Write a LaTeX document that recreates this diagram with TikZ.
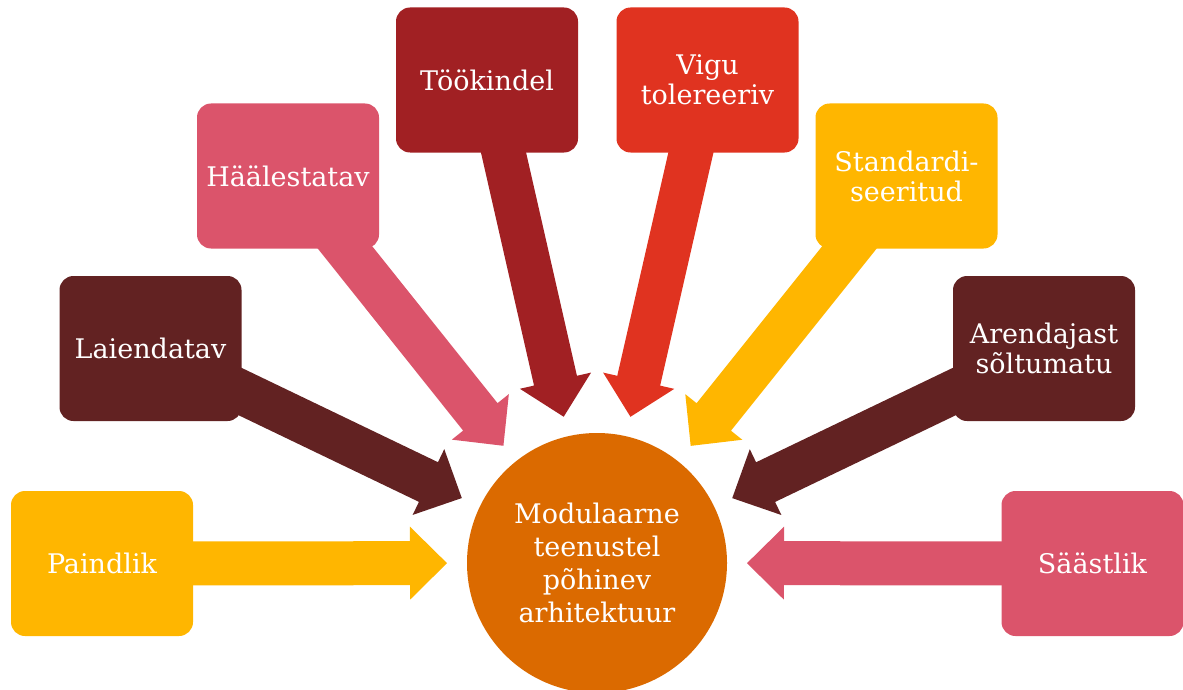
\documentclass[tikz,border=0pt]{standalone}
\usepackage{fontspec}
\setmainfont{DejaVu Serif}
\usetikzlibrary{calc,backgrounds}

\definecolor{amber}{HTML}{FFB600}
\definecolor{umber}{HTML}{622222}
\definecolor{rosy}{HTML}{DB546B}
\definecolor{crimson}{HTML}{A12023}
\definecolor{scarlet}{HTML}{E03320}
\definecolor{hubfill}{HTML}{DB6A00}

\tikzset{
  tile/.style={rectangle, rounded corners=14pt, minimum width=182pt,
    minimum height=145pt, inner sep=0pt, align=center, text=white,
    font=\fontsize{27}{30}\selectfont},
  hubnode/.style={circle, fill=hubfill, minimum size=260pt, inner sep=0pt,
    align=center, text=white, font=\fontsize{27}{33}\selectfont},
}

% block arrow from the centre of tile #1 toward the hub, stopping 150pt from its centre
\newcommand\spoke[2]{%
  \coordinate (#1-tip) at ($(hub.center)!150pt!(#1.center)$);
  \coordinate (#1-neck) at ($(#1-tip)!37pt!(#1.center)$);
  \fill[#2] ($(#1.center)!22pt!90:(#1-tip)$)
    -- ($(#1-neck)!22pt!90:(#1-tip)$)
    -- ($(#1-neck)!36.5pt!90:(#1-tip)$)
    -- (#1-tip)
    -- ($(#1-neck)!36.5pt!-90:(#1-tip)$)
    -- ($(#1-neck)!22pt!-90:(#1-tip)$)
    -- ($(#1.center)!22pt!-90:(#1-tip)$) -- cycle;
}

\begin{document}
\begin{tikzpicture}[x=1pt,y=-1pt]
\useasboundingbox (0,0) rectangle (1183,690);

\node[hubnode] (hub) at (597,563) {Modulaarne\\teenustel\\põhinev\\arhitektuur};

\node[tile, fill=amber]   (paindlik) at (102,563.5)   {Paindlik};
\node[tile, fill=umber]   (laiend)   at (150.5,348.5) {Laiendatav};
\node[tile, fill=rosy]    (haal)     at (288,176)     {Häälestatav};
\node[tile, fill=crimson] (tookind)  at (487,80)      {Töökindel};
\node[tile, fill=scarlet] (vigu)     at (707.5,80)    {Vigu\\tolereeriv};
\node[tile, fill=amber]   (standard) at (906.5,176)   {Standardi-\\seeritud};
\node[tile, fill=umber]   (arend)    at (1044,348.5)  {Arendajast\\sõltumatu};
\node[tile, fill=rosy]    (saast)    at (1092.5,563.5){Säästlik};

\begin{pgfonlayer}{background}
  \spoke{paindlik}{amber}
  \spoke{laiend}{umber}
  \spoke{haal}{rosy}
  \spoke{tookind}{crimson}
  \spoke{vigu}{scarlet}
  \spoke{standard}{amber}
  \spoke{arend}{umber}
  \spoke{saast}{rosy}
\end{pgfonlayer}
\end{tikzpicture}
\end{document}
